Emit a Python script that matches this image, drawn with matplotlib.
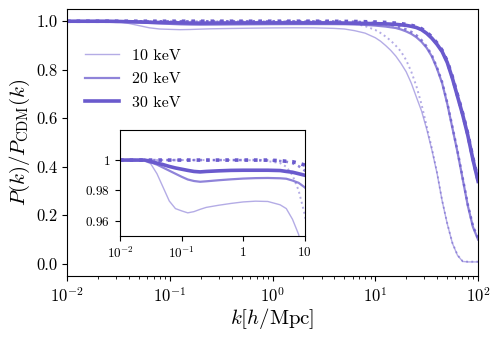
import numpy as np
import matplotlib
matplotlib.use("Agg")
import matplotlib.pyplot as plt
from matplotlib.ticker import NullLocator

plt.rcParams['font.family'] = 'serif'
plt.rcParams['font.serif'] = ['cmr10', 'DejaVu Serif']
plt.rcParams['mathtext.fontset'] = 'cm'
plt.rcParams['axes.formatter.use_mathtext'] = True
plt.rcParams['axes.unicode_minus'] = False

# log10(k) sampling grid
logk = [-2, -1.8, -1.6, -1.5, -1.4, -1.3, -1.2, -1.1, -1.0, -0.9, -0.8, -0.7, -0.6,
        -0.4, -0.2, 0, 0.2, 0.4, 0.6, 0.7, 0.8, 0.9, 1.0, 1.05, 1.1, 1.15, 1.2, 1.25,
        1.3, 1.35, 1.4, 1.45, 1.5, 1.55, 1.6, 1.65, 1.7, 1.75, 1.8, 1.85, 1.9, 1.95, 2.0]
k = 10.0 ** np.array(logk)

# solid lines
s10 = [1.0, 1.0, 0.9995, 0.9975, 0.991, 0.982, 0.973, 0.968, 0.9665, 0.9652, 0.966, 0.9675, 0.9688,
       0.9702, 0.9714, 0.9724, 0.9729, 0.9727, 0.9705, 0.968, 0.961, 0.951, 0.932, 0.918, 0.90, 0.88,
       0.856, 0.826, 0.792, 0.745, 0.687, 0.63, 0.555, 0.47, 0.375, 0.26, 0.165, 0.085, 0.035, 0.01, 0.008, 0.008, 0.008]
s20 = [1.0, 1.0, 1.0, 0.9985, 0.997, 0.995, 0.993, 0.991, 0.989, 0.9872, 0.9862, 0.9857, 0.986,
       0.9867, 0.9873, 0.9878, 0.9881, 0.9882, 0.988, 0.9877, 0.9865, 0.985, 0.982, 0.980, 0.978, 0.975,
       0.972, 0.966, 0.958, 0.948, 0.934, 0.915, 0.89, 0.855, 0.805, 0.745, 0.66, 0.56, 0.46, 0.35, 0.24, 0.152, 0.10]
s30 = [1.0, 1.0, 1.0, 0.999, 0.998, 0.997, 0.9958, 0.9948, 0.994, 0.9932, 0.9925, 0.9922, 0.9925,
       0.9929, 0.9932, 0.9933, 0.9933, 0.9933, 0.9931, 0.9925, 0.992, 0.991, 0.990, 0.9895, 0.989, 0.988,
       0.987, 0.985, 0.983, 0.979, 0.974, 0.965, 0.95, 0.93, 0.905, 0.875, 0.83, 0.765, 0.69, 0.615, 0.53, 0.43, 0.34]
# dotted lines
d10 = [1.0, 1.0, 1.0, 1.0, 1.0, 1.0, 1.0, 1.0, 1.0, 1.0, 1.0, 1.0, 1.0,
       1.0, 1.0, 1.0, 0.9998, 0.9993, 0.998, 0.9956, 0.99, 0.98, 0.964, 0.952, 0.937, 0.92,
       0.899, 0.875, 0.84, 0.792, 0.732, 0.657, 0.567, 0.477, 0.378, 0.263, 0.167, 0.087, 0.036, 0.011, 0.009, 0.009, 0.009]
d20 = [1.0, 1.0, 1.0, 1.0, 1.0, 1.0, 1.0, 1.0, 1.0, 1.0, 1.0, 1.0, 1.0,
       1.0, 1.0, 1.0, 1.0, 0.9998, 0.9994, 0.9989, 0.998, 0.996, 0.993, 0.991, 0.988, 0.985,
       0.98, 0.974, 0.966, 0.956, 0.942, 0.922, 0.896, 0.86, 0.81, 0.75, 0.665, 0.565, 0.465, 0.355, 0.245, 0.157, 0.105]
d30 = [1.0, 1.0, 1.0, 1.0, 1.0, 1.0, 1.0, 1.0, 1.0, 1.0, 1.0, 1.0, 1.0,
       1.0, 1.0, 1.0, 1.0, 1.0, 0.9996, 0.9992, 0.9989, 0.998, 0.9967, 0.996, 0.995, 0.9935,
       0.992, 0.99, 0.987, 0.983, 0.978, 0.969, 0.955, 0.935, 0.91, 0.88, 0.835, 0.77, 0.695, 0.62, 0.535, 0.435, 0.345]

labels = ["10 keV", "20 keV", "30 keV"]
solid = [s10, s20, s30]
dotted = [d10, d20, d30]
alphas = [0.5, 0.75, 1.0]
lws = [1.0, 1.6, 2.6]
dlws = [1.4, 1.8, 2.6]
color = "#6a5acd"

fig = plt.figure(figsize=(4.98, 3.37), dpi=100)
ax = fig.add_axes([0.1345, 0.181, 0.8255, 0.792])

for s, d, a, lw, dlw, lab in zip(solid, dotted, alphas, lws, dlws, labels):
    ax.plot(k, s, color=color, alpha=a, lw=lw, label=lab)
    ax.plot(k, d, color=color, alpha=a, lw=dlw, ls=':')

ax.set_xscale('log')
ax.set_xlim(1e-2, 1e2)
ax.set_ylim(-0.05, 1.05)
ax.set_yticks([0.0, 0.2, 0.4, 0.6, 0.8, 1.0])
ax.set_yticklabels(["0.0", "0.2", "0.4", "0.6", "0.8", "1.0"])
ax.tick_params(direction='out', labelsize=12)
ax.set_xlabel(r"$k[h/{\rm Mpc}]$", fontsize=15, labelpad=1)
ax.set_ylabel(r"$P(k)/P_{\rm CDM}(k)$", fontsize=15, labelpad=3)
ax.legend(loc='upper left', bbox_to_anchor=(0.01, 0.905), frameon=False, fontsize=11.5,
          handlelength=2.1, handletextpad=0.8, labelspacing=0.58)

ins = fig.add_axes([0.241, 0.300, 0.371, 0.315])
for s, d, a, lw, dlw in zip(solid, dotted, alphas, lws, dlws):
    ins.plot(k, s, color=color, alpha=a, lw=lw)
    ins.plot(k, d, color=color, alpha=a, lw=dlw, ls=':')
ins.set_xscale('log')
ins.set_xlim(1e-2, 10)
ins.set_ylim(0.95, 1.02)
ins.set_xticks([1e-2, 1e-1, 1, 10])
ins.set_xticklabels([r"$10^{-2}$", r"$10^{-1}$", r"$1$", r"$10$"])
ins.xaxis.set_minor_locator(NullLocator())
ins.set_yticks([0.96, 0.98, 1.0])
ins.set_yticklabels([r"$0.96$", r"$0.98$", r"$1$"])
ins.tick_params(direction='out', labelsize=9.5)

fig.savefig("out.png", dpi=100)
